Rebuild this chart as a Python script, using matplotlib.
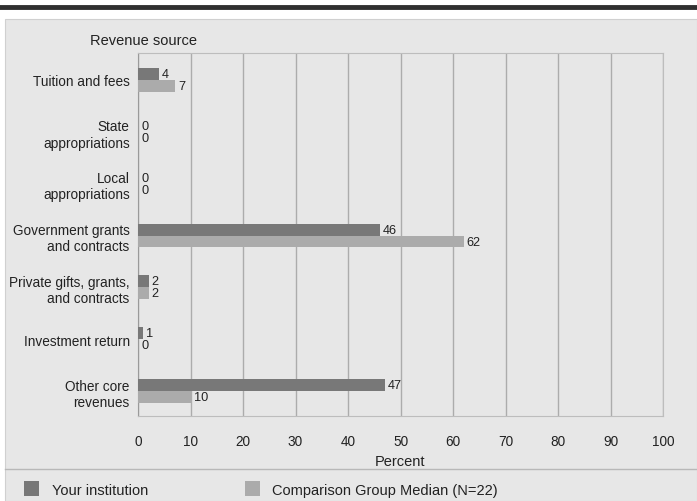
import numpy as np
import matplotlib.pyplot as plt
from matplotlib.patches import Rectangle
from matplotlib.lines import Line2D

plt.rcParams['font.family'] = ['Liberation Sans', 'DejaVu Sans']

categories = ["Tuition and fees", "State\nappropriations", "Local\nappropriations",
              "Government grants\nand contracts", "Private gifts, grants,\nand contracts",
              "Investment return", "Other core\nrevenues"]
your_inst = [4, 0, 0, 46, 2, 1, 47]
comparison = [7, 0, 0, 62, 2, 0, 10]
series_names = ["Your institution", "Comparison Group Median (N=22)"]

dark = '#787878'
light = '#ababab'
bg = '#e7e7e7'
grid_col = '#acacac'
txt = '#222222'

fig = plt.figure(figsize=(6.97, 5.02), dpi=100)
fig.patch.set_facecolor('white')

# panel background and top rule
fig.patches.append(Rectangle((5/697, 0), 692/697, 482/502, transform=fig.transFigure,
                             facecolor=bg, edgecolor='#d0d0d0', lw=0.8, zorder=-10))
fig.lines.append(Line2D([0, 1], [494/502, 494/502], transform=fig.transFigure,
                        color='#303030', lw=3.5))
fig.lines.append(Line2D([5/697, 1], [32/502, 32/502], transform=fig.transFigure,
                        color='#b8b8b8', lw=1))

ax = fig.add_axes([138/697, 85/502, 525/697, 363/502])
ax.set_facecolor(bg)

y = np.arange(len(categories))
h = 0.23
ax.barh(y - h/2, your_inst, height=h, color=dark, zorder=3)
ax.barh(y + h/2, comparison, height=h, color=light, zorder=3)

for i in range(len(categories)):
    ax.text(your_inst[i] + 0.6, y[i] - h/2, str(your_inst[i]), va='center', ha='left',
            fontsize=9.2, color=txt, zorder=4)
    ax.text(comparison[i] + 0.6, y[i] + h/2, str(comparison[i]), va='center', ha='left',
            fontsize=9.2, color=txt, zorder=4)

ax.set_xlim(0, 100)
ax.set_ylim(6.48, -0.52)
ax.set_xticks(np.arange(0, 101, 10))
ax.set_yticks(y)
ax.set_yticklabels(categories, fontsize=9.8, color=txt)
ax.tick_params(axis='x', labelsize=9.8, colors=txt, length=0, pad=13)
ax.tick_params(axis='y', length=0, pad=6)
ax.grid(axis='x', color=grid_col, lw=1, zorder=0)
for s in ['top', 'right', 'bottom']:
    ax.spines[s].set_color('#bdbdbd')
ax.spines['left'].set_color('#9a9a9a')

ax.set_xlabel("Percent", fontsize=10.5, color=txt, labelpad=4)
fig.text(90/697, 461/502, "Revenue source", fontsize=10.5, color=txt, va='center', ha='left')

# legend
for x0, xt, col, name in [(24, 52, dark, series_names[0]), (245, 272, light, series_names[1])]:
    fig.patches.append(Rectangle((x0/697, 5/502), 15/697, 15/502, transform=fig.transFigure,
                                 facecolor=col, edgecolor='none'))
    fig.text(xt/697, 11/502, name, fontsize=10.5, color=txt, va='center', ha='left')

fig.savefig('out.png', dpi=100, facecolor=fig.get_facecolor())
